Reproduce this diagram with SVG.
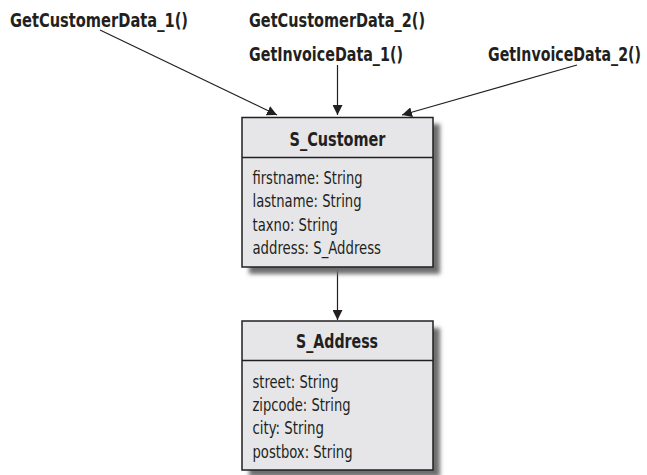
<svg xmlns="http://www.w3.org/2000/svg" width="647" height="475" viewBox="0 0 647 475">
<defs>
<marker id="ah" viewBox="0 0 10 10" refX="10" refY="5" markerWidth="10" markerHeight="10" markerUnits="userSpaceOnUse" orient="auto">
<path d="M0,0 L10,5 L0,10 z" fill="#231f20"/>
</marker>
<filter id="sh" x="-10%" y="-10%" width="130%" height="130%">
<feGaussianBlur stdDeviation="2"/>
</filter>
</defs>
<style>
.lbl{font-family:"DejaVu Sans Condensed","Liberation Sans",sans-serif;font-weight:bold;font-size:18px;fill:#231f20}
.ttl{font-family:"DejaVu Sans Condensed","Liberation Sans",sans-serif;font-weight:bold;font-size:20px;fill:#231f20}
.att{font-family:"DejaVu Sans Condensed","Liberation Sans",sans-serif;font-size:17px;fill:#231f20}
.box{fill:#e6e6e8;stroke:#231f20;stroke-width:1.5}
.sep{stroke:#231f20;stroke-width:1.5}
.shadow{fill:#6e6e70;filter:url(#sh)}
.edge{stroke:#231f20;stroke-width:1.2;fill:none;marker-end:url(#ah)}
</style>
<g id="labels">
<text class="lbl" transform="translate(10,27) scale(1,1.12)" textLength="178" lengthAdjust="spacingAndGlyphs">GetCustomerData_1()</text>
<text class="lbl" transform="translate(249,27) scale(1,1.12)" textLength="176" lengthAdjust="spacingAndGlyphs">GetCustomerData_2()</text>
<text class="lbl" transform="translate(249,61) scale(1,1.12)" textLength="154" lengthAdjust="spacingAndGlyphs">GetInvoiceData_1()</text>
<text class="lbl" transform="translate(641,61) scale(1,1.12)" text-anchor="end" textLength="153" lengthAdjust="spacingAndGlyphs">GetInvoiceData_2()</text>
</g>
<g id="connectors">
<line class="edge" x1="100" y1="30" x2="277" y2="115"/>
<line class="edge" x1="337.5" y1="65" x2="337.5" y2="115"/>
<line class="edge" x1="577" y1="65" x2="402" y2="115"/>
<line class="edge" x1="337.5" y1="267" x2="337.5" y2="320"/>
</g>
<g id="S_Customer">
<rect class="shadow" x="249" y="124" width="191" height="150"/>
<rect class="box" x="242" y="117.5" width="191" height="149.5"/>
<line class="sep" x1="242" y1="157.5" x2="433" y2="157.5"/>
<text class="ttl" x="337.5" y="145.5" text-anchor="middle" textLength="96" lengthAdjust="spacingAndGlyphs">S_Customer</text>
<text class="att" x="252.5" y="184" textLength="110" lengthAdjust="spacingAndGlyphs">firstname: String</text>
<text class="att" x="252.5" y="207" textLength="109" lengthAdjust="spacingAndGlyphs">lastname: String</text>
<text class="att" x="252.5" y="230.5" textLength="85.5" lengthAdjust="spacingAndGlyphs">taxno: String</text>
<text class="att" x="252.5" y="254" textLength="128.5" lengthAdjust="spacingAndGlyphs">address: S_Address</text>
</g>
<g id="S_Address">
<rect class="shadow" x="249" y="328" width="191" height="149"/>
<rect class="box" x="242" y="321" width="191" height="149"/>
<line class="sep" x1="242" y1="360.5" x2="433" y2="360.5"/>
<text class="ttl" x="337" y="347.5" text-anchor="middle" textLength="82" lengthAdjust="spacingAndGlyphs">S_Address</text>
<text class="att" x="252.5" y="387.5" textLength="86" lengthAdjust="spacingAndGlyphs">street: String</text>
<text class="att" x="252.5" y="410.5" textLength="98" lengthAdjust="spacingAndGlyphs">zipcode: String</text>
<text class="att" x="252.5" y="434" textLength="71.5" lengthAdjust="spacingAndGlyphs">city: String</text>
<text class="att" x="252.5" y="457.5" textLength="100" lengthAdjust="spacingAndGlyphs">postbox: String</text>
</g>
</svg>
